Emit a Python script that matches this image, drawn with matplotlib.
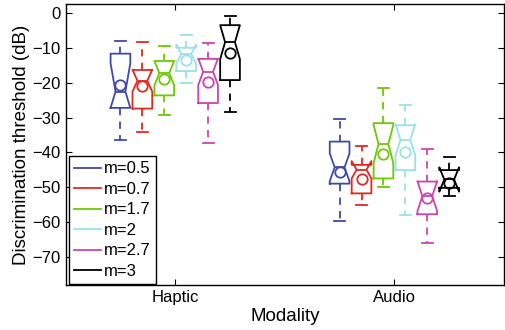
import matplotlib
matplotlib.use('Agg')
import matplotlib.pyplot as plt

plt.rcParams['font.family'] = ['Liberation Sans', 'DejaVu Sans']

modalities = ['Haptic', 'Audio']
m_labels = ['m=0.5', 'm=0.7', 'm=1.7', 'm=2', 'm=2.7', 'm=3']
colors = ['#3f4aa8', '#e3291f', '#6cc800', '#9ae0ea', '#cc44b0', '#000000']

# one row per m value: [Haptic, Audio]
whishi = [[-8.0, -30.4], [-8.3, -38.2], [-9.5, -21.4], [-6.2, -26.4], [-8.4, -39.1], [-0.7, -41.3]]
q3 = [[-11.6, -36.9], [-16.3, -43.6], [-13.7, -31.6], [-9.9, -32.2], [-13.1, -48.4], [-3.4, -45.1]]
med = [[-22.5, -44.3], [-19.4, -45.0], [-17.2, -37.6], [-11.7, -36.4], [-16.8, -52.6], [-8.3, -47.8]]
q1 = [[-27.2, -49.0], [-27.4, -51.8], [-23.6, -47.5], [-16.6, -45.1], [-25.8, -57.8], [-19.2, -50.2]]
whislo = [[-36.3, -59.7], [-34.2, -55.2], [-29.2, -50.1], [-19.9, -57.9], [-37.4, -66.0], [-28.4, -52.6]]
cihi = [[-14.4, -40.3], [-16.2, -42.5], [-13.7, -32.1], [-9.0, -31.9], [-13.0, -48.3], [-3.4, -44.3]]
cilo = [[-27.2, -48.3], [-22.5, -47.5], [-20.7, -43.1], [-14.4, -40.9], [-20.6, -56.9], [-13.2, -51.3]]
means = [[-20.7, -45.6], [-20.8, -47.7], [-19.0, -40.4], [-13.4, -39.9], [-19.7, -53.2], [-11.4, -48.9]]

fig = plt.figure(figsize=(5.05, 3.3), dpi=100)
ax = fig.add_axes([0.130, 0.136, 0.868, 0.852])

offsets = [-0.25, -0.15, -0.05, 0.05, 0.15, 0.25]
for i in range(len(m_labels)):
    c = colors[i]
    stats = []
    pos = []
    for j in range(len(modalities)):
        stats.append({'whislo': whislo[i][j], 'q1': q1[i][j], 'med': med[i][j],
                      'q3': q3[i][j], 'whishi': whishi[i][j],
                      'cilo': cilo[i][j], 'cihi': cihi[i][j],
                      'fliers': []})
        pos.append(j + 1 + offsets[i])
    ax.bxp(stats, positions=pos, widths=0.09, shownotches=True, showfliers=False,
           manage_ticks=False, capwidths=0.05,
           boxprops=dict(color=c, lw=1.3),
           medianprops=dict(color=c, lw=1.3),
           whiskerprops=dict(color=c, lw=1.3, linestyle=(0, (4, 3.5))),
           capprops=dict(color=c, lw=1.3))
    ax.plot(pos, means[i], 'o', mfc='none', mec=c, mew=1.3, ms=7.5)
    ax.plot([], [], color=c, lw=1.3, label=m_labels[i])

ax.set_xlim(0.5, 2.5)
ax.set_ylim(-78.2, 2.7)
ax.set_xticks([1, 2])
ax.set_xticklabels(modalities)
ax.set_yticks(range(-70, 1, 10))
ax.tick_params(direction='in', length=4, labelsize=12, top=True, right=True, width=0.8)
ax.set_xlabel('Modality', fontsize=13.5, labelpad=2)
ax.set_ylabel('Discrimination threshold (dB)', fontsize=13.5, labelpad=2)
for s in ax.spines.values():
    s.set_linewidth(1.0)

leg = ax.legend(loc='lower left', bbox_to_anchor=(0.008, 0.004), fontsize=12,
                frameon=True, fancybox=False, edgecolor='black', framealpha=1,
                handlelength=1.6, handletextpad=0.2, labelspacing=0.33,
                borderpad=0.3, borderaxespad=0)
leg.get_frame().set_linewidth(1.0)

fig.savefig('out.png', dpi=100)
